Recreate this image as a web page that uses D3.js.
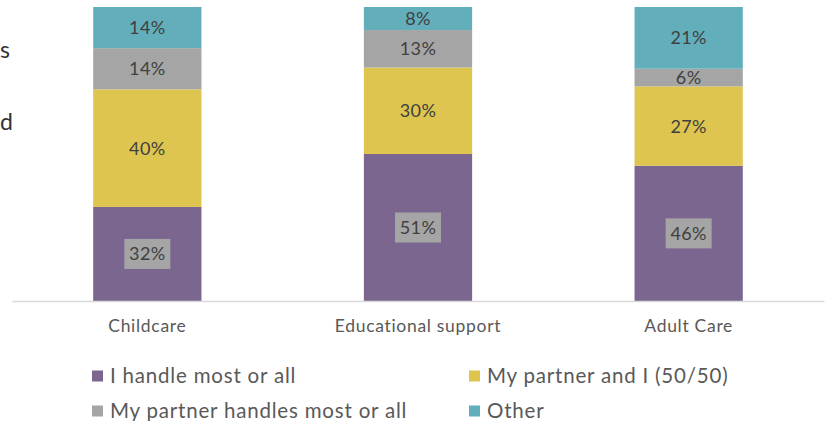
<!DOCTYPE html>
<html>
<head>
<meta charset="utf-8">
<script src="https://cdn.jsdelivr.net/npm/d3@7"></script>
<style>
  html, body { margin: 0; padding: 0; background: #fff; }
  svg { display: block; font-family: Lato, "Open Sans", sans-serif; }
</style>
</head>
<body>
<svg id="chart" width="827" height="421"></svg>
<script>
// Who handles each type of care
const categories = ["Childcare", "Educational support", "Adult Care"];
const seriesNames = ["I handle most or all", "My partner and I (50/50)", "My partner handles most or all", "Other"];
const handleMost = [32, 51, 46];
const partnerAndI = [40, 30, 27];
const partnerHandles = [14, 13, 6];
const other = [14, 8, 21];
const seriesColors = ["#7b6690", "#dec54f", "#a5a5a5", "#62afbb"];

const seriesValues = [handleMost, partnerAndI, partnerHandles, other];
const rows = categories.map((c, i) => {
  const row = { category: c };
  seriesNames.forEach((s, k) => { row[s] = seriesValues[k][i]; });
  return row;
});

const svg = d3.select("#chart");

const x = d3.scaleBand()
  .domain(categories)
  .range([12, 824])
  .paddingInner(0.6)
  .paddingOuter(0.3);

const y = d3.scaleLinear().domain([0, 1]).range([301, 7]);

const color = d3.scaleOrdinal().domain(seriesNames).range(seriesColors);

const stacked = d3.stack()
  .keys(seriesNames)
  .offset(d3.stackOffsetExpand)(rows);

// Heading fragments at the left edge
svg.append("text").attr("x", 0).attr("y", 58)
  .attr("font-size", 23).attr("fill", "#333").text("s");
svg.append("text").attr("x", 0).attr("y", 130)
  .attr("font-size", 23).attr("fill", "#333").text("d");

// Stacked bars
const layers = svg.append("g").selectAll("g")
  .data(stacked)
  .join("g")
  .attr("fill", d => color(d.key));

layers.selectAll("rect")
  .data(d => d)
  .join("rect")
  .attr("x", d => x(d.data.category))
  .attr("width", x.bandwidth())
  .attr("y", d => y(d[1]))
  .attr("height", d => y(d[0]) - y(d[1]));

// Baseline axis
const xAxis = svg.append("g")
  .attr("transform", `translate(0,${y(0)})`)
  .call(d3.axisBottom(x).tickSize(0).tickPadding(19));
xAxis.select(".domain").attr("stroke", "#d9d9d9").attr("stroke-width", 1.5);
xAxis.selectAll("text")
  .attr("font-family", "Lato, sans-serif")
  .attr("font-size", 17.5)
  .attr("letter-spacing", 0.7)
  .attr("fill", "#595959");

// Value labels
const labelG = svg.append("g");
stacked.forEach((layer, k) => {
  layer.forEach(d => {
    const cx = x(d.data.category) + x.bandwidth() / 2;
    const cy = (y(d[0]) + y(d[1])) / 2;
    const val = d.data[layer.key];
    if (k === 0) {
      labelG.append("rect")
        .attr("x", cx - 23).attr("y", cy - 15)
        .attr("width", 46).attr("height", 30)
        .attr("fill", "#a5a5a5");
    }
    labelG.append("text")
      .attr("x", cx).attr("y", cy)
      .attr("dy", "0.36em")
      .attr("text-anchor", "middle")
      .attr("font-size", 18)
      .attr("letter-spacing", 0.4)
      .attr("fill", "#404040")
      .text(val + "%");
  });
});

// Legend
const legendPos = [[92, 376], [469, 376], [92, 411], [469, 411]];
const legend = svg.append("g");
seriesNames.forEach((s, i) => {
  const [lx, ly] = legendPos[i];
  legend.append("rect")
    .attr("x", lx).attr("y", ly - 5.5)
    .attr("width", 11).attr("height", 11)
    .attr("fill", color(s));
  legend.append("text")
    .attr("x", lx + 18).attr("y", ly)
    .attr("dy", "0.36em")
    .attr("font-size", 20.5)
    .attr("letter-spacing", 0.8)
    .attr("fill", "#595959")
    .text(s);
});
</script>
</body>
</html>
